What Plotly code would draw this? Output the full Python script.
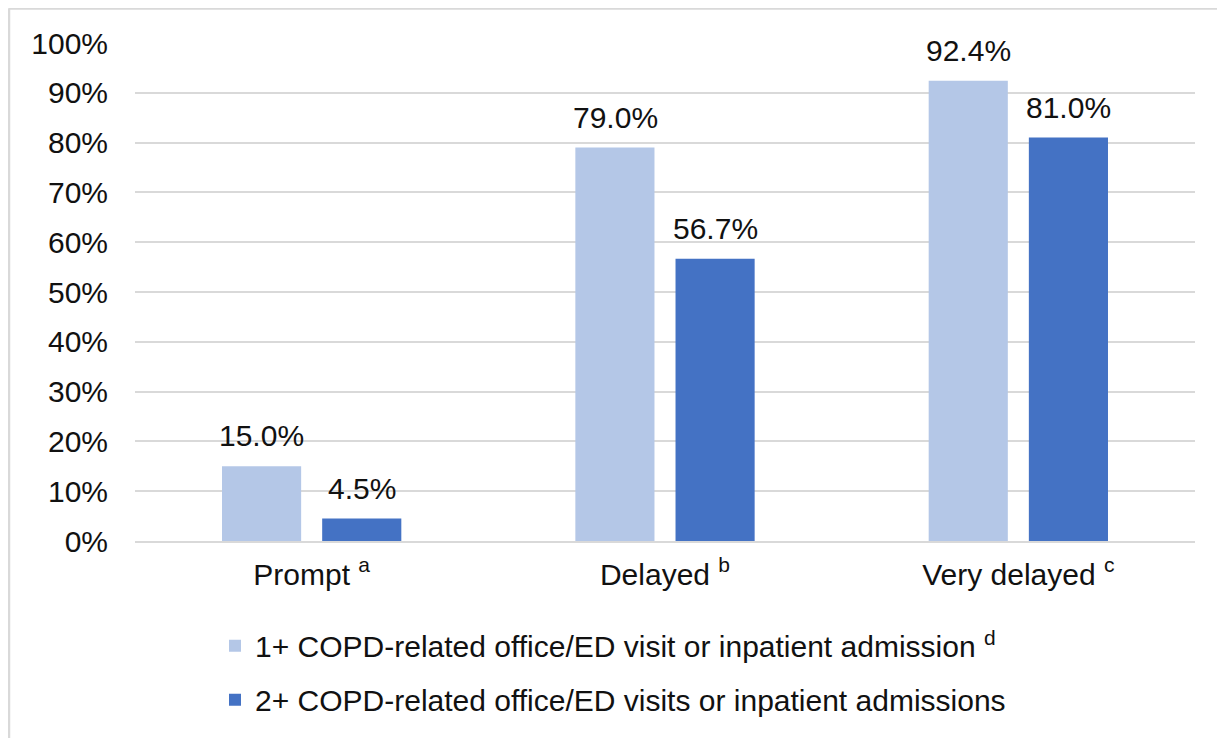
import plotly.graph_objects as go

categories = ["Prompt <sup>a</sup>", "Delayed <sup>b</sup>", "Very delayed <sup>c</sup>"]
series1_name = "1+ COPD-related office/ED visit or inpatient admission <sup>d</sup>"
series2_name = "2+ COPD-related office/ED visits or inpatient admissions"
series1 = [15.0, 79.0, 92.4]
series2 = [4.5, 56.7, 81.0]
ytick_vals = [0, 10, 20, 30, 40, 50, 60, 70, 80, 90, 100]
ytick_text = [f"{v}%" for v in ytick_vals]

FONT = "Liberation Sans, Arial, sans-serif"
TXT = "#111111"
FS = 30
# page is offset by the 8px body margin
W, H = 1217, 730
ML, MR, MT, MB = 127, 30, 35, 195
PW = W - ML - MR
PH = H - MT - MB

fig = go.Figure()
fig.add_trace(go.Bar(x=categories, y=series1, name=series1_name,
                     marker=dict(color="#b4c7e7", line=dict(width=0)),
                     legendgroup="g1"))
fig.add_trace(go.Bar(x=categories, y=series2, name=series2_name,
                     marker=dict(color="#4472c4", line=dict(width=0)),
                     legendgroup="g2"))

annotations = []
for cat, v in zip(categories, series1):
    annotations.append(dict(x=cat, y=v, text=f"{v:.1f}%", xref="x", yref="y",
                            showarrow=False, yanchor="bottom", xshift=-50, yshift=12,
                            font=dict(family=FONT, size=FS, color=TXT)))
for cat, v in zip(categories, series2):
    annotations.append(dict(x=cat, y=v, text=f"{v:.1f}%", xref="x", yref="y",
                            showarrow=False, yanchor="bottom", xshift=50, yshift=12,
                            font=dict(family=FONT, size=FS, color=TXT)))

# outer frame (top and left edges)
fx0 = (1 - ML) / PW
fy_top = (H - MB - 0) / PH
fy_bot = (H - MB - H - 10) / PH
fx_right = (W + 10 - ML) / PW
shapes = [
    dict(type="line", xref="paper", yref="paper", x0=fx0, x1=fx_right, y0=fy_top, y1=fy_top,
         line=dict(color="#d9d9d9", width=3), layer="below"),
    dict(type="line", xref="paper", yref="paper", x0=fx0, x1=fx0, y0=fy_bot, y1=fy_top,
         line=dict(color="#d9d9d9", width=2.5), layer="below"),
]

fig.update_layout(
    width=W, height=H,
    margin=dict(l=ML, r=MR, t=MT, b=MB),
    paper_bgcolor="white", plot_bgcolor="white",
    barmode="group", bargap=0.433, bargroupgap=0.21,
    font=dict(family=FONT, size=FS, color=TXT),
    xaxis=dict(showgrid=False, showline=True, linecolor="#d9d9d9", linewidth=1.5,
               ticks="", tickfont=dict(size=FS, color=TXT), ticklabelstandoff=6),
    yaxis=dict(range=[0, 100], tickvals=ytick_vals, ticktext=ytick_text,
               showgrid=True, gridcolor="#d9d9d9", gridwidth=1.5,
               zeroline=False, showline=False, ticks="",
               tickfont=dict(size=FS, color=TXT), ticklabelstandoff=26),
    showlegend=True,
    legend=dict(x=(207 - ML) / PW, y=(H - MB - 614) / PH, xanchor="left", yanchor="top",
                orientation="v", traceorder="grouped", tracegroupgap=12,
                font=dict(family=FONT, size=FS, color=TXT), bgcolor="rgba(0,0,0,0)",
                itemwidth=30),
    annotations=annotations,
    shapes=shapes,
)

fig.write_html("out.html")
